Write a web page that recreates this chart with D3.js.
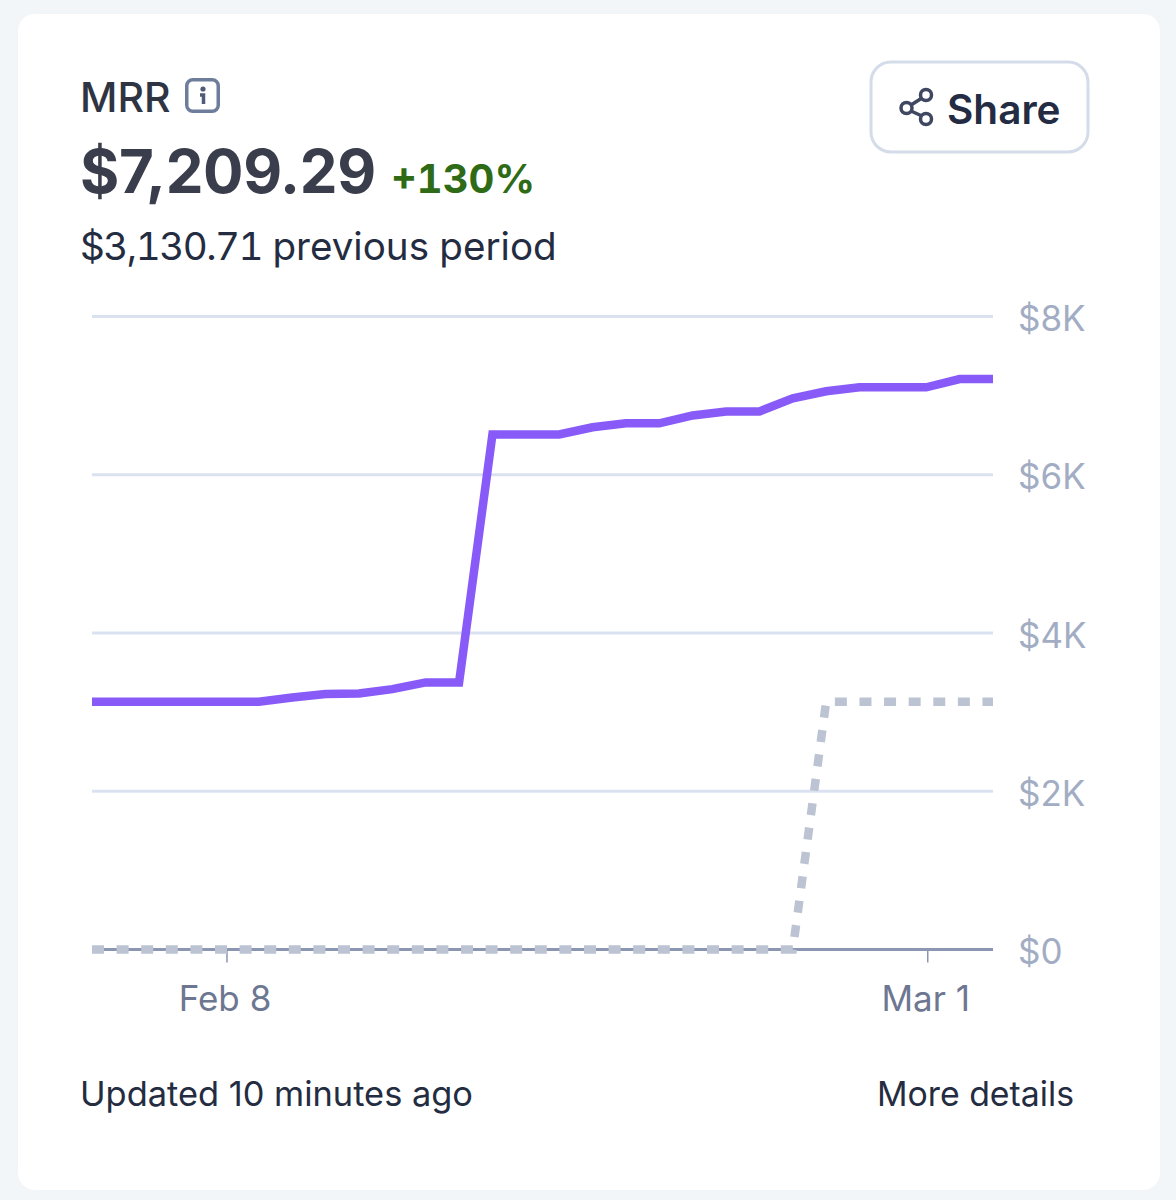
<!DOCTYPE html>
<html lang="en">

<head>
    <meta charset="UTF-8">
    <title>MRR</title>
    <script src="https://d3js.org/d3.v7.min.js"></script>
    <style>
        html, body { margin: 0; padding: 0; background: #f3f6f9; }
        svg { display: block; }
        text { font-family: Inter, "Noto Sans", sans-serif; }
        .tnum { font-variant-numeric: tabular-nums; }
    </style>
</head>

<body>
    <div id="chart"></div>
    <script>
        // Data
        const startDate = new Date(2023, 1, 4);
        const current = [3130, 3130, 3130, 3130, 3130, 3130, 3185, 3230, 3235, 3290, 3375, 3375, 6510, 6510,
            6510, 6600, 6650, 6650, 6750, 6800, 6800, 6965, 7055, 7105, 7105, 7105, 7209, 7209];
        const previous = [0, 0, 0, 0, 0, 0, 0, 0, 0, 0, 0, 0, 0, 0,
            0, 0, 0, 0, 0, 0, 0, 0, 3130, 3130, 3130, 3130, 3130, 3130];
        const yTicks = [0, 2000, 4000, 6000, 8000];
        const xTicks = [new Date(2023, 1, 8), new Date(2023, 2, 1)];

        const dates = current.map((d, i) => d3.timeDay.offset(startDate, i));

        const width = 1176;
        const height = 1200;
        const margin = { top: 316.5, right: 183, bottom: 250.5, left: 92 };

        const svg = d3.select("#chart")
            .append("svg")
            .attr("width", width)
            .attr("height", height)
            .attr("viewBox", `0 0 ${width} ${height}`);

        // Card
        svg.append("rect")
            .attr("x", 18)
            .attr("y", 14)
            .attr("width", 1142)
            .attr("height", 1176)
            .attr("rx", 17)
            .attr("fill", "#fff");

        // Header
        svg.append("text")
            .attr("x", 80)
            .attr("y", 112)
            .attr("font-size", 41)
            .attr("font-weight", 500)
            .attr("fill", "#2f3443")
            .text("MRR");

        const info = svg.append("g").attr("transform", "translate(185,78)");
        info.append("rect")
            .attr("x", 1.75)
            .attr("y", 1.75)
            .attr("width", 31.5)
            .attr("height", 31.5)
            .attr("rx", 6)
            .attr("fill", "#fff")
            .attr("stroke", "#6f7d9c")
            .attr("stroke-width", 3.5);
        info.append("circle")
            .attr("cx", 18)
            .attr("cy", 11)
            .attr("r", 2.6)
            .attr("fill", "#4f5b78");
        info.append("path")
            .attr("d", "M15 17 H18.5 V26")
            .attr("fill", "none")
            .attr("stroke", "#4f5b78")
            .attr("stroke-width", 3.5);

        svg.append("text")
            .attr("x", 80)
            .attr("y", 193)
            .attr("font-size", 60)
            .attr("font-weight", 700)
            .attr("letter-spacing", -0.35)
            .attr("fill", "#3a3d4b")
            .text("$7,209.29");

        svg.append("text")
            .attr("class", "tnum")
            .attr("x", 391)
            .attr("y", 192.5)
            .attr("font-size", 40)
            .attr("font-weight", 700)
            .attr("fill", "#2f6b16")
            .text("+130%");

        const prevLabel = svg.append("text")
            .attr("class", "tnum")
            .attr("x", 80)
            .attr("y", 260)
            .attr("font-size", 38.6)
            .attr("fill", "#242c41");
        prevLabel.append("tspan")
            .attr("letter-spacing", -1.5)
            .text("$3,130.71");
        prevLabel.append("tspan")
            .text(" previous period");

        // Share button
        svg.append("rect")
            .attr("x", 871)
            .attr("y", 62)
            .attr("width", 217)
            .attr("height", 90)
            .attr("rx", 20)
            .attr("fill", "#fff")
            .attr("stroke", "#d4dbe9")
            .attr("stroke-width", 3);

        const share = svg.append("g")
            .attr("fill", "none")
            .attr("stroke", "#3f4860")
            .attr("stroke-width", 3.5);
        share.append("path").attr("d", "M911 105 L922 98 M911 111 L922 116");
        share.append("circle").attr("cx", 906.5).attr("cy", 108).attr("r", 5.5);
        share.append("circle").attr("cx", 926).attr("cy", 95).attr("r", 5.5);
        share.append("circle").attr("cx", 926).attr("cy", 119).attr("r", 5.5);

        svg.append("text")
            .attr("x", 947)
            .attr("y", 124)
            .attr("font-size", 40.5)
            .attr("font-weight", 600)
            .attr("fill", "#232c42")
            .text("Share");

        // Scales
        const x = d3.scaleTime()
            .domain(d3.extent(dates))
            .range([margin.left, width - margin.right]);

        const y = d3.scaleLinear()
            .domain([0, 8000])
            .range([height - margin.bottom, margin.top]);

        // Gridlines and y labels
        svg.append("g")
            .selectAll("line")
            .data(yTicks.filter(d => d > 0))
            .join("line")
            .attr("x1", x.range()[0])
            .attr("x2", x.range()[1])
            .attr("y1", d => y(d))
            .attr("y2", d => y(d))
            .attr("stroke", "#dae2f2")
            .attr("stroke-width", 3);

        svg.append("g")
            .selectAll("text")
            .data(yTicks)
            .join("text")
            .attr("x", 1018)
            .attr("y", d => y(d) + 14.6)
            .attr("font-size", 35)
            .attr("fill", "#a2adc4")
            .text(d => d === 0 ? "$0" : `$${d / 1000}K`);

        // X axis
        const xAxis = d3.axisBottom(x)
            .tickValues(xTicks)
            .tickSizeInner(13)
            .tickSizeOuter(0)
            .tickPadding(24)
            .offset(1.5)
            .tickFormat(d3.timeFormat("%b %-d"));

        const axisG = svg.append("g")
            .attr("transform", `translate(0,${y(0)})`)
            .call(xAxis);
        axisG.select(".domain")
            .attr("transform", "translate(-1.5,-1.5)")
            .attr("stroke", "#8b97b2")
            .attr("stroke-width", 3);
        axisG.selectAll(".tick line")
            .attr("stroke", "#8b97b2")
            .attr("stroke-width", 1.5);
        axisG.selectAll(".tick text")
            .attr("dx", -2)
            .attr("font-family", "Inter, sans-serif")
            .attr("font-size", 35)
            .attr("fill", "#6d7792");

        // Lines
        const line = d3.line()
            .x((d, i) => x(dates[i]))
            .y(d => y(d));

        svg.append("path")
            .datum(previous)
            .attr("fill", "none")
            .attr("stroke", "#bcc3d2")
            .attr("stroke-width", 8.5)
            .attr("stroke-dasharray", "12 12.6")
            .attr("d", line);

        svg.append("path")
            .datum(current)
            .attr("fill", "none")
            .attr("stroke", "#885bf8")
            .attr("stroke-width", 8.5)
            .attr("d", line);

        // Footer
        svg.append("text")
            .attr("x", 80)
            .attr("y", 1106)
            .attr("font-size", 34.4)
            .attr("fill", "#242c41")
            .text("Updated 10 minutes ago");

        svg.append("text")
            .attr("x", 877)
            .attr("y", 1106)
            .attr("font-size", 33.8)
            .attr("fill", "#242c41")
            .text("More details");
    </script>
</body>

</html>
